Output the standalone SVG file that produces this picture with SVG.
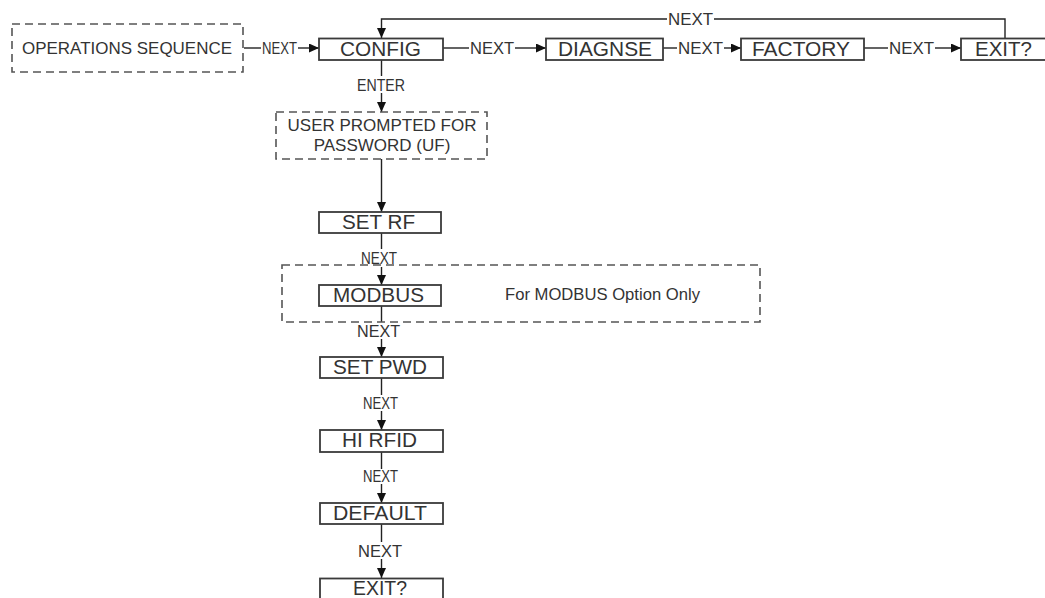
<svg xmlns="http://www.w3.org/2000/svg" width="1045" height="598" viewBox="0 0 1045 598">
<defs>
<marker id="arr" markerUnits="userSpaceOnUse" markerWidth="10" markerHeight="9" refX="10" refY="4.5" orient="auto">
<path d="M0,0 L10,4.5 L0,9 z" fill="#111"/>
</marker>
<style>
.box{fill:#fff;stroke:#3a3a3a;stroke-width:1.8}
.dash{fill:none;stroke:#555;stroke-width:1.6;stroke-dasharray:8,5}
.ln{fill:none;stroke:#222;stroke-width:1.4}
.lab{font-family:"Liberation Sans",Arial,sans-serif;font-size:20px;fill:#333}
.txt{font-family:"Liberation Sans",Arial,sans-serif;font-size:17px;fill:#333}
.nx{font-family:"Liberation Sans",Arial,sans-serif;font-size:16px;fill:#333}
</style>
</defs>
<rect width="1045" height="598" fill="#fff"/>

<g id="connectors">
<line class="ln" x1="244" y1="48" x2="261" y2="48"/>
<line class="ln" x1="298" y1="48" x2="319" y2="48" marker-end="url(#arr)"/>
<line class="ln" x1="443" y1="48" x2="469" y2="48"/>
<line class="ln" x1="515" y1="48" x2="546" y2="48" marker-end="url(#arr)"/>
<line class="ln" x1="663" y1="48" x2="677" y2="48"/>
<line class="ln" x1="724" y1="48" x2="741" y2="48" marker-end="url(#arr)"/>
<line class="ln" x1="864" y1="48" x2="888" y2="48"/>
<line class="ln" x1="935" y1="48" x2="961" y2="48" marker-end="url(#arr)"/>
<polyline class="ln" points="1005,39 1005,19 714,19"/>
<polyline class="ln" points="667,19 381.5,19 381.5,38" marker-end="url(#arr)"/>
<line class="ln" x1="381.5" y1="60" x2="381.5" y2="76"/>
<line class="ln" x1="381.5" y1="93" x2="381.5" y2="112" marker-end="url(#arr)"/>
<line class="ln" x1="381.5" y1="159" x2="381.5" y2="212" marker-end="url(#arr)"/>
<line class="ln" x1="381.5" y1="233" x2="381.5" y2="249"/>
<line class="ln" x1="381.5" y1="267" x2="381.5" y2="285" marker-end="url(#arr)"/>
<line class="ln" x1="381.5" y1="306" x2="381.5" y2="322"/>
<line class="ln" x1="381.5" y1="339" x2="381.5" y2="357" marker-end="url(#arr)"/>
<line class="ln" x1="381.5" y1="378" x2="381.5" y2="395"/>
<line class="ln" x1="381.5" y1="411" x2="381.5" y2="430" marker-end="url(#arr)"/>
<line class="ln" x1="381.5" y1="452" x2="381.5" y2="469"/>
<line class="ln" x1="381.5" y1="484" x2="381.5" y2="503" marker-end="url(#arr)"/>
<line class="ln" x1="381.5" y1="524" x2="381.5" y2="542"/>
<line class="ln" x1="381.5" y1="559" x2="381.5" y2="578" marker-end="url(#arr)"/>
<text class="nx" x="262" y="54" textLength="35" lengthAdjust="spacingAndGlyphs">NEXT</text>
<text class="nx" x="470" y="54" textLength="44" lengthAdjust="spacingAndGlyphs">NEXT</text>
<text class="nx" x="678" y="54" textLength="45" lengthAdjust="spacingAndGlyphs">NEXT</text>
<text class="nx" x="889" y="54" textLength="45" lengthAdjust="spacingAndGlyphs">NEXT</text>
<text class="nx" x="668" y="25" textLength="45" lengthAdjust="spacingAndGlyphs">NEXT</text>
<text class="nx" x="357" y="91" textLength="48" lengthAdjust="spacingAndGlyphs">ENTER</text>
<text class="nx" x="361" y="264" textLength="36" lengthAdjust="spacingAndGlyphs">NEXT</text>
<text class="nx" x="357" y="337" textLength="43" lengthAdjust="spacingAndGlyphs">NEXT</text>
<text class="nx" x="363" y="409" textLength="35" lengthAdjust="spacingAndGlyphs">NEXT</text>
<text class="nx" x="363" y="482" textLength="35" lengthAdjust="spacingAndGlyphs">NEXT</text>
<text class="nx" x="358" y="557" textLength="44" lengthAdjust="spacingAndGlyphs">NEXT</text>
</g>

<g id="ops-sequence">
<rect class="dash" x="12" y="24" width="231" height="48"/>
<text class="txt" x="22" y="54" textLength="210" lengthAdjust="spacingAndGlyphs">OPERATIONS SEQUENCE</text>
</g>
<g id="config">
<rect class="box" x="319" y="38.5" width="124" height="21.5"/>
<text class="lab" x="340" y="56" textLength="81" lengthAdjust="spacingAndGlyphs">CONFIG</text>
</g>
<g id="diagnse">
<rect class="box" x="546" y="38.5" width="117" height="21.5"/>
<text class="lab" x="558" y="56" textLength="94" lengthAdjust="spacingAndGlyphs">DIAGNSE</text>
</g>
<g id="factory">
<rect class="box" x="741" y="38.5" width="123" height="21.5"/>
<text class="lab" x="752" y="56" textLength="98" lengthAdjust="spacingAndGlyphs">FACTORY</text>
</g>
<g id="exit-top">
<rect class="box" x="961" y="38.5" width="100" height="21.5"/>
<text class="lab" x="975" y="56" textLength="57" lengthAdjust="spacingAndGlyphs">EXIT?</text>
</g>
<g id="user-prompted">
<rect class="dash" x="276" y="112" width="211" height="47"/>
<text class="txt" x="382" y="131" text-anchor="middle">USER PROMPTED FOR</text>
<text class="txt" x="382" y="151" text-anchor="middle">PASSWORD (UF)</text>
</g>
<g id="set-rf">
<rect class="box" x="319" y="212" width="122" height="21"/>
<text class="lab" x="342" y="228.5" textLength="73" lengthAdjust="spacingAndGlyphs">SET RF</text>
</g>
<g id="modbus-option">
<rect class="dash" x="282" y="265" width="478" height="57"/>
<text class="txt" x="505" y="300" textLength="195" lengthAdjust="spacingAndGlyphs">For MODBUS Option Only</text>
</g>
<g id="modbus">
<rect class="box" x="319" y="285" width="122" height="21"/>
<text class="lab" x="333" y="301.5" textLength="91" lengthAdjust="spacingAndGlyphs">MODBUS</text>
</g>
<g id="set-pwd">
<rect class="box" x="320" y="357" width="123" height="21"/>
<text class="lab" x="333" y="374" textLength="94" lengthAdjust="spacingAndGlyphs">SET PWD</text>
</g>
<g id="hi-rfid">
<rect class="box" x="320" y="430" width="123" height="22"/>
<text class="lab" x="342" y="447" textLength="75" lengthAdjust="spacingAndGlyphs">HI RFID</text>
</g>
<g id="default">
<rect class="box" x="320" y="503" width="123" height="21"/>
<text class="lab" x="333" y="520" textLength="94" lengthAdjust="spacingAndGlyphs">DEFAULT</text>
</g>
<g id="exit-bottom">
<rect class="box" x="320" y="578.5" width="123" height="30"/>
<text class="lab" x="353" y="595" textLength="54" lengthAdjust="spacingAndGlyphs">EXIT?</text>
</g>
</svg>
